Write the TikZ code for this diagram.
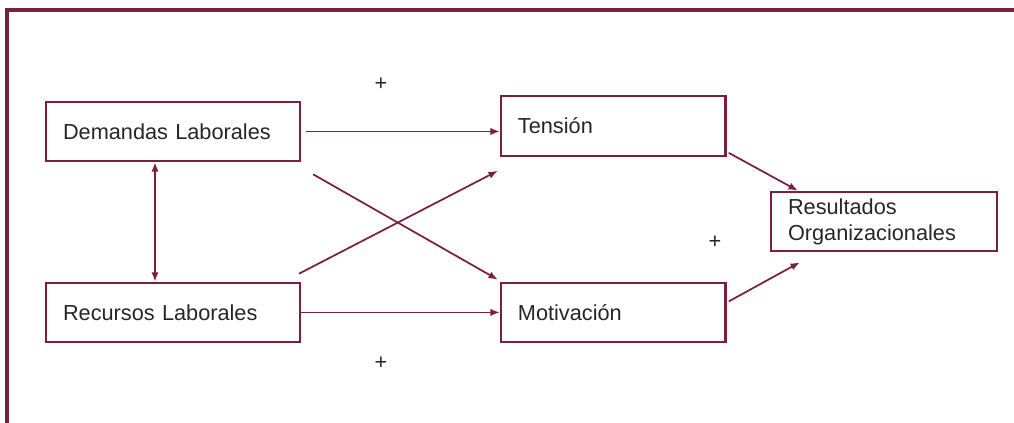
\documentclass[tikz,border=0pt]{standalone}
\usepackage{fontspec}
\setmainfont{Liberation Sans}
\usepackage{tikz}
\usetikzlibrary{arrows.meta,positioning,calc}
\definecolor{boxred}{RGB}{122,31,61}

\begin{document}
\begin{tikzpicture}[x=0.75pt,y=-0.75pt,>={Latex[length=7pt,width=5.5pt]}, every node/.style={font=\fontsize{16.3}{19.5}\selectfont,text=black!85}]
\tikzstyle{box}=[draw=boxred,line width=1.7pt,align=left,inner xsep=12.75pt,minimum height=44.5pt]
\tikzstyle{link}=[draw=boxred,line width=1.3pt]
\useasboundingbox (0,0) rectangle (1014,423);
\draw[boxred,line width=2.4pt] (7,423) -- (7,10) -- (1014,10);
\node[box,text width=165pt] (dem) at (173,131.5) {Demandas Laborales};
\node[box,text width=165pt,below=89.5pt of dem] (rec) {Recursos Laborales};
\node[box,text width=143pt,right=149pt of dem,yshift=4.1pt] (ten) {Tensión};
\node[box,text width=143pt,right=149pt of rec] (mot) {Motivación};
\node[box,text width=144pt] (res) at (884,221.5) {Resultados\\Organizacionales};
\node (plustop) at (381,84) {+};
\node (plusmid) at (715,242) {+};
\node (plusbot) at (381,363) {+};
\draw[link,->,shorten <=3.75pt] (dem.east) -- (dem.east -| ten.west);
\draw[link,->] (rec.east) -- (rec.east -| mot.west);
\draw[link,->] ($(dem.south east)+(12,12)$) -- ($(mot.north west)+(-2,-2)$);
\draw[link,->] ($(rec.north east)+(-2,-8)$) -- ($(ten.south west)+(-2,14)$);
\draw[link,<->] ([xshift=-13.5pt]dem.south) -- ([xshift=-13.5pt]rec.north);
\draw[link,->] ($(ten.south east)+(2,-4)$) -- ($(res.north west)+(28,0)$);
\draw[link,->] ($(mot.east)+(2,-11)$) -- ($(res.south west)+(30,10)$);
\end{tikzpicture}
\end{document}
